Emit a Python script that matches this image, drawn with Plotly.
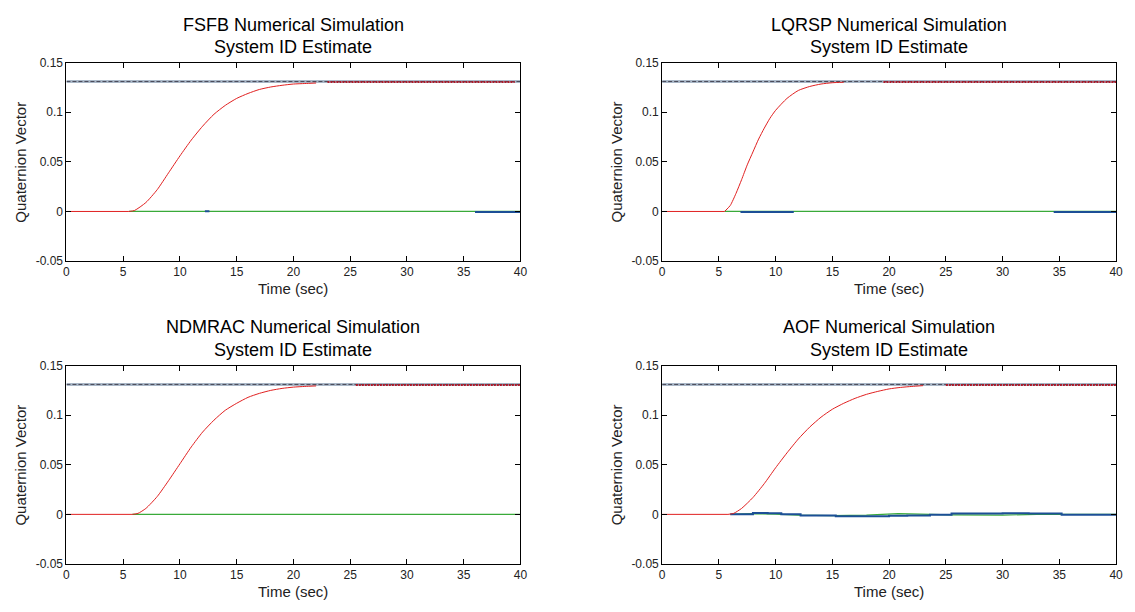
import plotly.graph_objects as go

# ---------------- data ----------------
titles = ["FSFB Numerical Simulation", "LQRSP Numerical Simulation",
          "NDMRAC Numerical Simulation", "AOF Numerical Simulation"]
subtitle = "System ID Estimate"

target_value = 0.131
x_range = [0, 40]

# red: quaternion response (flat start, then transient)
fsfb_start = 5.5
fsfb_t = [5.5, 6, 7, 8, 9, 10, 11, 12, 13, 14, 15, 16, 17, 18, 19, 20, 21, 22]
fsfb_q = [0, 0.001, 0.009, 0.022, 0.039, 0.056, 0.072, 0.086, 0.098, 0.107,
          0.114, 0.119, 0.123, 0.1255, 0.1272, 0.1285, 0.129, 0.1295]
fsfb_plateau = [23, 39.5]

lqrsp_start = 5.5
lqrsp_t = [5.5, 6, 6.5, 7, 7.5, 8, 8.5, 9, 9.5, 10, 11, 12, 13, 14, 15, 16]
lqrsp_q = [0, 0.006, 0.018, 0.032, 0.047, 0.06, 0.073, 0.084, 0.094, 0.102,
           0.114, 0.122, 0.126, 0.1285, 0.1298, 0.1303]
lqrsp_plateau = [19.5, 40]

ndmrac_start = 5.8
ndmrac_t = [5.8, 6.3, 7, 8, 9, 10, 11, 12, 13, 14, 15, 16, 17, 18, 19, 20, 21, 22]
ndmrac_q = [0, 0.001, 0.006, 0.018, 0.034, 0.051, 0.068, 0.083, 0.095, 0.105,
            0.112, 0.118, 0.122, 0.125, 0.127, 0.1283, 0.129, 0.1295]
ndmrac_plateau = [25.5, 40]

aof_start = 5.8
aof_t = [5.8, 6.3, 7, 8, 9, 10, 11, 12, 13, 14, 15, 16, 17, 18, 19, 20, 21, 22, 23]
aof_q = [0, 0.001, 0.006, 0.017, 0.031, 0.047, 0.062, 0.076, 0.088, 0.098,
         0.106, 0.112, 0.117, 0.121, 0.124, 0.1265, 0.128, 0.129, 0.1298]
aof_plateau = [25, 40]

# green: other component (near zero)
fsfb_g_t, fsfb_g = [5.5, 40], [0, 0]
lqrsp_g_t, lqrsp_g = [5.5, 40], [0, 0]
ndmrac_g_t, ndmrac_g = [5.8, 40], [0, 0]
aof_g_t = [6, 8, 10, 12, 15, 18, 20.8, 22.9, 25.5, 30, 33, 40]
aof_g = [0, 0.0008, 0.0002, -0.0008, -0.0012, -0.0008, 0.0008, 0.0003,
         -0.0005, -0.0007, 0, 0]

# blue: estimate component (near zero) -- segments visible over green
fsfb_b_segments = [([12.2, 12.6], [0.0002, 0.0002]), ([36.0, 40], [-0.0006, -0.0006])]
lqrsp_b_segments = [([6.9, 11.6], [-0.0006, -0.0006]), ([34.5, 40], [-0.0006, -0.0006])]
ndmrac_b_segments = []
aof_b_t = [6, 7, 8.0, 9.3, 10.5, 12.2, 15.3, 16, 20, 21.6, 23.6, 25.5, 30, 32.3, 35.2, 40]
aof_b = [0, 0.0002, 0.0015, 0.0012, 0, -0.0012, -0.0018, -0.0018, -0.0015,
         -0.0012, -0.0005, 0.0008, 0.0012, 0.0008, -0.0005, -0.0007]

y_tickvals = [-0.05, 0, 0.05, 0.1, 0.15]
y_ticktext = ["-0.05", "0", "0.05", "0.1", "0.15"]
x_tickvals = [0, 5, 10, 15, 20, 25, 30, 35, 40]

panels = [
    (fsfb_start, fsfb_t, fsfb_q, fsfb_plateau, fsfb_g_t, fsfb_g, fsfb_b_segments),
    (lqrsp_start, lqrsp_t, lqrsp_q, lqrsp_plateau, lqrsp_g_t, lqrsp_g, lqrsp_b_segments),
    (ndmrac_start, ndmrac_t, ndmrac_q, ndmrac_plateau, ndmrac_g_t, ndmrac_g, ndmrac_b_segments),
    (aof_start, aof_t, aof_q, aof_plateau, aof_g_t, aof_g, [(aof_b_t, aof_b)]),
]

# ---------------- layout geometry (pixels) ----------------
W, H = 1135, 612
x_px = [(64, 522), (665, 1123)]
y_px = [(57, 260), (367, 570)]
x_doms = [[a / W, b / W] for a, b in x_px]
y_doms = [[1 - b / H, 1 - a / H] for a, b in y_px]

RED = "#e02020"
GREEN = "#3aaa3a"
BLUE = "#1c4f96"
FONT = "Liberation Sans, Arial, sans-serif"

fig = go.Figure()
annotations = []
layout_axes = {}

for i, (t0, t, q, plateau, gt, g, bsegs) in enumerate(panels):
    row, col = divmod(i, 2)
    n = i + 1
    xa = "x" if n == 1 else f"x{n}"
    ya = "y" if n == 1 else f"y{n}"
    # target reference line (light band + dark dash)
    fig.add_trace(go.Scatter(x=x_range, y=[target_value, target_value], mode="lines",
                             line=dict(color="#aab8c8", width=3), xaxis=xa, yaxis=ya,
                             showlegend=False, hoverinfo="skip"))
    fig.add_trace(go.Scatter(x=x_range, y=[target_value, target_value], mode="lines",
                             line=dict(color="#4a4a58", width=1, dash="4px,2px"),
                             xaxis=xa, yaxis=ya, showlegend=False, hoverinfo="skip"))
    # green component
    fig.add_trace(go.Scatter(x=gt, y=g, mode="lines", line=dict(color=GREEN, width=1.2),
                             xaxis=xa, yaxis=ya, showlegend=False))
    # blue component
    for bx, by in bsegs:
        fig.add_trace(go.Scatter(x=bx, y=by, mode="lines", line=dict(color=BLUE, width=2, shape="hv"),
                                 xaxis=xa, yaxis=ya, showlegend=False))
    # red response: flat part then transient
    fig.add_trace(go.Scatter(x=[0, t0], y=[0, 0], mode="lines", line=dict(color=RED, width=1),
                             xaxis=xa, yaxis=ya, showlegend=False))
    fig.add_trace(go.Scatter(x=t, y=q, mode="lines",
                             line=dict(color=RED, width=1, shape="spline", smoothing=0.6),
                             xaxis=xa, yaxis=ya, showlegend=False))
    fig.add_trace(go.Scatter(x=plateau, y=[0.1305, 0.1305], mode="lines",
                             line=dict(color="#b01828", width=2, dash="2px,1px"),
                             xaxis=xa, yaxis=ya, showlegend=False))

    xkey = "xaxis" if n == 1 else f"xaxis{n}"
    ykey = "yaxis" if n == 1 else f"yaxis{n}"
    layout_axes[xkey] = dict(domain=x_doms[col], range=x_range, anchor=ya,
                             tickvals=x_tickvals, ticks="inside", ticklen=5, tickcolor="black",
                             showline=True, linecolor="black", linewidth=1, mirror="allticks",
                             showgrid=False, zeroline=False,
                             tickfont=dict(family=FONT, size=12, color="#222"))
    layout_axes[ykey] = dict(domain=y_doms[row], range=[-0.05, 0.15], anchor=xa,
                             tickvals=y_tickvals, ticktext=y_ticktext, ticks="inside", ticklen=5,
                             tickcolor="black", showline=True, linecolor="black", linewidth=1,
                             mirror="allticks", showgrid=False, zeroline=False,
                             tickfont=dict(family=FONT, size=12, color="#222"))

    xc = (x_doms[col][0] + x_doms[col][1]) / 2
    top_px = y_px[row][0]
    bot_px = y_px[row][1]
    annotations.append(dict(text=titles[i], x=xc, y=1 - (top_px - 39) / H,
                            xref="paper", yref="paper", xanchor="center", yanchor="middle",
                            showarrow=False, font=dict(family=FONT, size=18, color="black")))
    annotations.append(dict(text=subtitle, x=xc, y=1 - (top_px - 16) / H,
                            xref="paper", yref="paper", xanchor="center", yanchor="middle",
                            showarrow=False, font=dict(family=FONT, size=18, color="black")))
    annotations.append(dict(text="Time (sec)", x=xc, y=1 - (bot_px + 28) / H,
                            xref="paper", yref="paper", xanchor="center", yanchor="middle",
                            showarrow=False, font=dict(family=FONT, size=15, color="#222")))
    annotations.append(dict(text="Quaternion Vector", x=(x_px[col][0] - 46) / W,
                            y=(y_doms[row][0] + y_doms[row][1]) / 2,
                            xref="paper", yref="paper", xanchor="center", yanchor="middle",
                            textangle=-90, showarrow=False,
                            font=dict(family=FONT, size=15, color="#222")))

fig.update_layout(width=W, height=H, margin=dict(l=0, r=0, t=0, b=0),
                  paper_bgcolor="white", plot_bgcolor="white",
                  annotations=annotations, **layout_axes)

fig.write_html("out.html")
